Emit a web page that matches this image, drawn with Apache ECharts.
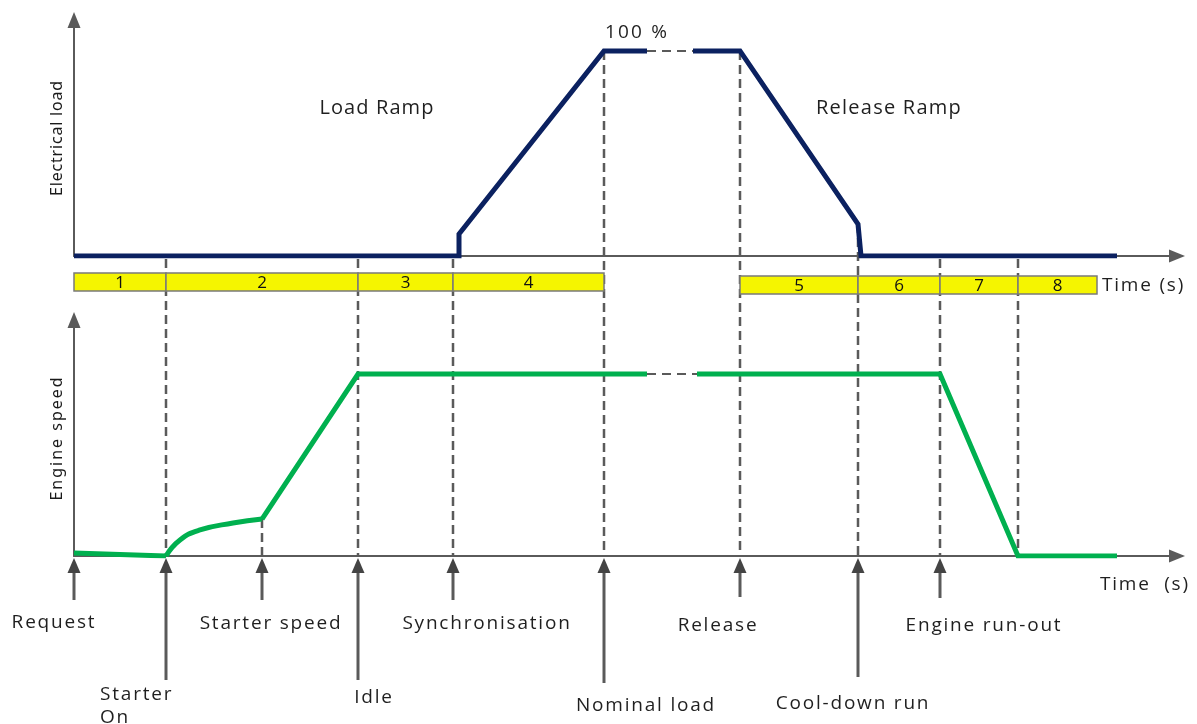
<!DOCTYPE html>
<html><head><meta charset="utf-8">
<script src="https://cdn.jsdelivr.net/npm/echarts@6/dist/echarts.min.js"></script>
<style>html,body{margin:0;padding:0;background:#fff}#c{width:1197px;height:724px}</style>
</head><body><div id="c"></div>
<script>
// ---------------- data (time in s, load / speed in % of nominal) ----------------
const loadTimesA  = [0, 38.5, 38.5, 53.0, 57.3];
const loadValuesA = [0, 0, 10.7, 100, 100];
const loadTimesB  = [61.9, 66.6, 78.4, 78.7, 104.3];
const loadValuesB = [100, 100, 15.6, 0, 0];
const loadGapTimes = [57.3, 61.9];

const speedTimesReq   = [0, 9.2];
const speedValuesReq  = [1.6, 0];
const speedTimesStart = [9.2, 10.6, 12.6, 15.9, 18.8];
const speedValuesStart= [0, 8.8, 14.3, 18.1, 20.3];
const speedTimesRamp  = [18.8, 28.4, 57.3];
const speedValuesRamp = [20.3, 100, 100];
const speedTimesEnd   = [62.3, 86.6, 94.4, 104.3];
const speedValuesEnd  = [100, 100, 0, 0];
const speedGapTimes = [57.3, 62.3];

const eventNames = ['Request', 'Starter\nOn', 'Starter speed', 'Idle', 'Synchronisation',
                    'Nominal load', 'Release', 'Cool-down run', 'Engine run-out'];
const eventTimes = [0, 9.2, 18.8, 28.4, 37.9, 53.0, 66.6, 78.4, 86.6];

const phaseLabels = ['1', '2', '3', '4', '5', '6', '7', '8'];
const phaseStart  = [0, 9.2, 28.4, 37.9, 66.6, 78.4, 86.6, 94.4];
const phaseEnd    = [9.2, 28.4, 37.9, 53.0, 78.4, 86.6, 94.4, 102.3];

const dashTimes = [9.2, 28.4, 37.9, 53.0, 66.6, 78.4, 86.6, 94.4];

// ---------------- layout ----------------
const LEFT = 74, AXIS_END_X = 1177;
const TOP_Y0 = 256, TOP_Y1 = 20;
const BOT_Y0 = 556, BOT_Y1 = 320;
const X_MAX = 110.3, LOAD_MAX = 115.1, SPEED_MAX = 129.7;
const GAP_TOP = 259;
const arrowEnds = [600, 680, 600, 680, 600, 683, 597, 677, 598];
const labelLayout = [ // [dx from event, y, align]
  [-20, 623, 'center'], [-66, 706, 'left'], [9, 624, 'center'], [16, 698, 'center'],
  [34, 624, 'center'], [42, 706, 'center'], [-22, 626, 'center'], [-5, 704, 'center'], [44, 626, 'center']
];
const FONT = '"Open Sans", "Noto Sans", sans-serif';
const NAVY = '#0b2160', GREEN = '#00b04f', GRAY = '#5a5a5a';

// text tracking (the reference uses loosely spaced lettering)
const trackingFor = function (t) {
  if (t === 'Load Ramp') return '1.1px';
  if (t === 'Release Ramp') return '1.25px';
  if (t === '100 %') return '2.2px';
  if (t === 'Electrical load') return '0.8px';
  if (t === 'Engine speed') return '2px';
  if (t.length === 1) return '0px';
  return '1.8px';
};
(function () {
  const P = CanvasRenderingContext2D.prototype, orig = P.fillText;
  P.fillText = function (t, x, y, m) {
    const prev = this.letterSpacing;
    this.letterSpacing = trackingFor(String(t));
    if (m === undefined) orig.call(this, t, x, y); else orig.call(this, t, x, y, m);
    this.letterSpacing = prev;
  };
})();

const zip = (a, b) => a.map((v, i) => [v, b[i]]);
const allLoadT = loadTimesA.concat(loadTimesB), allLoadV = loadValuesA.concat(loadValuesB);
function loadAt(t) { const i = allLoadT.indexOf(t); return i >= 0 ? allLoadV[i] : 0; }

const axisStyle = { lineStyle: { color: GRAY, width: 2 }, symbol: ['none', 'triangle'], symbolSize: [13, 16] };
const baseX = { type: 'value', min: 0, max: X_MAX, axisLine: axisStyle, axisTick: { show: false },
                axisLabel: { show: false }, splitLine: { show: false } };
const nameStyle = { fontFamily: '"Noto Sans", sans-serif', fontSize: 16, color: '#1a1a1a' };

const lineSeries = (name, xi, data, color, extra) => Object.assign({
  name, type: 'line', xAxisIndex: xi, yAxisIndex: xi, data, symbol: 'none', z: 5,
  lineStyle: { color, width: 5, cap: 'butt', join: 'miter' }, animation: false
}, extra || {});

const chart = echarts.init(document.getElementById('c'));
chart.setOption({
  animation: false,
  grid: [
    { left: LEFT, top: TOP_Y1, width: AXIS_END_X - LEFT, height: TOP_Y0 - TOP_Y1 },
    { left: LEFT, top: BOT_Y1, width: AXIS_END_X - LEFT, height: BOT_Y0 - BOT_Y1 }
  ],
  xAxis: [Object.assign({ gridIndex: 0 }, baseX), Object.assign({ gridIndex: 1 }, baseX)],
  yAxis: [
    { gridIndex: 0, type: 'value', min: 0, max: LOAD_MAX, name: 'Electrical load', nameLocation: 'middle',
      nameGap: 9, nameTextStyle: nameStyle, axisLine: axisStyle, axisTick: { show: false },
      axisLabel: { show: false }, splitLine: { show: false } },
    { gridIndex: 1, type: 'value', min: 0, max: SPEED_MAX, name: 'Engine speed', nameLocation: 'middle',
      nameGap: 9, nameTextStyle: nameStyle, axisLine: axisStyle, axisTick: { show: false },
      axisLabel: { show: false }, splitLine: { show: false } }
  ],
  graphic: [
    { type: 'text', x: 377, y: 108, style: { text: 'Load Ramp', font: '20px ' + FONT, fill: '#1f1f1f', align: 'center', verticalAlign: 'middle' } },
    { type: 'text', x: 889, y: 108, style: { text: 'Release Ramp', font: '20px ' + FONT, fill: '#1f1f1f', align: 'center', verticalAlign: 'middle' } },
    { type: 'text', x: 637, y: 33, style: { text: '100 %', font: '19px ' + FONT, fill: '#1f1f1f', align: 'center', verticalAlign: 'middle' } },
    { type: 'text', x: 1102, y: 286, style: { text: 'Time (s)', font: '19px ' + FONT, fill: '#1f1f1f', align: 'left', verticalAlign: 'middle' } },
    { type: 'text', x: 1100, y: 585, style: { text: 'Time  (s)', font: '19px ' + FONT, fill: '#1f1f1f', align: 'left', verticalAlign: 'middle' } }
  ],
  series: [
    // vertical dashed event lines (top grid coords, extend down to lower time axis)
    { type: 'custom', xAxisIndex: 0, yAxisIndex: 0, clip: false, z: 2,
      data: dashTimes.map(t => [t, loadAt(t)]),
      renderItem: function (params, api) {
        const t = api.value(0), l = api.value(1);
        const p = api.coord([t, l]);
        const y1 = l > 0 ? p[1] : GAP_TOP;
        return { type: 'line', shape: { x1: p[0], y1: y1, x2: p[0], y2: BOT_Y0 },
                 style: { stroke: GRAY, lineWidth: 2.5, lineDash: [9, 5] } };
      } },
    // short dashed line under starter speed point
    { type: 'custom', xAxisIndex: 1, yAxisIndex: 1, clip: false, z: 2,
      data: [[speedTimesStart[speedTimesStart.length - 1], speedValuesStart[speedValuesStart.length - 1]]],
      renderItem: function (params, api) {
        const p = api.coord([api.value(0), api.value(1)]);
        const b = api.coord([api.value(0), 0]);
        return { type: 'line', shape: { x1: p[0], y1: p[1], x2: b[0], y2: b[1] },
                 style: { stroke: GRAY, lineWidth: 2.5, lineDash: [9, 5] } };
      } },
    // phase bars
    { type: 'custom', xAxisIndex: 0, yAxisIndex: 0, clip: false, z: 3,
      data: phaseStart.map((s, i) => [s, phaseEnd[i], i]),
      renderItem: function (params, api) {
        const a = api.coord([api.value(0), 0]), b = api.coord([api.value(1), 0]);
        const i = api.value(2);
        const y = i < 4 ? 273 : 276, h = 18;
        return { type: 'group', children: [
          { type: 'rect', shape: { x: a[0], y: y, width: b[0] - a[0], height: h },
            style: { fill: '#f5f500', stroke: '#7a7a7a', lineWidth: 1.5 } },
          { type: 'text', style: { text: phaseLabels[i], x: (a[0] + b[0]) / 2, y: y + h / 2 + 1,
            align: 'center', verticalAlign: 'middle', font: '17px ' + FONT, fill: '#111' } }
        ] };
      } },
    // event arrows + labels
    { type: 'custom', xAxisIndex: 1, yAxisIndex: 1, clip: false, z: 3,
      data: eventTimes.map((t, i) => [t, i]),
      renderItem: function (params, api) {
        const i = api.value(1);
        const p = api.coord([api.value(0), 0]);
        const x = p[0], tip = p[1] + 2;
        const lay = labelLayout[i];
        return { type: 'group', children: [
          { type: 'line', shape: { x1: x, y1: tip + 10, x2: x, y2: arrowEnds[i] },
            style: { stroke: GRAY, lineWidth: 3 } },
          { type: 'polygon', shape: { points: [[x, tip], [x - 6.5, tip + 15], [x + 6.5, tip + 15]] },
            style: { fill: '#444' } },
          { type: 'text', style: { text: eventNames[i], x: x + lay[0], y: lay[1], align: lay[2],
            verticalAlign: 'middle', lineHeight: 23, font: '19px ' + FONT, fill: '#1f1f1f' } }
        ] };
      } },
    // plateau break dashes
    lineSeries('loadGap', 0, loadGapTimes.map(t => [t, 100]), GRAY, { lineStyle: { color: GRAY, width: 2, type: [9, 6] }, z: 4 }),
    lineSeries('speedGap', 1, speedGapTimes.map(t => [t, 100]), GRAY, { lineStyle: { color: GRAY, width: 2, type: [9, 6] }, z: 4 }),
    // electrical load
    lineSeries('Electrical load A', 0, zip(loadTimesA, loadValuesA), NAVY),
    lineSeries('Electrical load B', 0, zip(loadTimesB, loadValuesB), NAVY),
    // engine speed
    lineSeries('Speed request', 1, zip(speedTimesReq, speedValuesReq), GREEN),
    lineSeries('Speed start', 1, zip(speedTimesStart, speedValuesStart), GREEN, { smooth: 0.5 }),
    lineSeries('Speed ramp', 1, zip(speedTimesRamp, speedValuesRamp), GREEN),
    lineSeries('Speed end', 1, zip(speedTimesEnd, speedValuesEnd), GREEN)
  ]
});
</script></body></html>
